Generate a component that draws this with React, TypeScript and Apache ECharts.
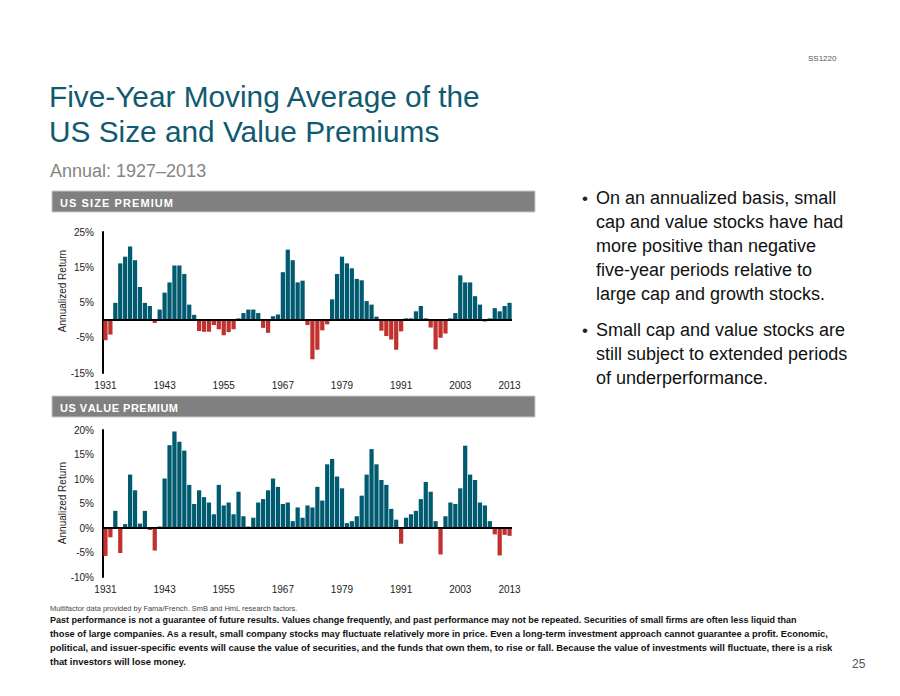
import React, { useEffect, useRef } from 'react';
import * as echarts from 'echarts';

const years: string[] = [];
for (let y = 1931; y <= 2013; y++) years.push(String(y));

// US size premium, five-year moving average (%), 1931–2013
const sizePremium = [
  -5.7, -4.1, 4.9, 16.1, 18.0, 20.9, 17.0, 9.4, 4.9, 4.0,
  -0.8, 3.0, 7.8, 10.7, 15.5, 15.5, 13.1, 4.4, 1.5, -3.1,
  -3.3, -3.3, -1.4, -2.6, -4.3, -3.4, -2.6, 0.5, 2.0, 3.0,
  3.0, 2.0, -2.2, -3.6, 1.1, 1.6, 13.6, 20.0, 17.0, 10.7,
  11.2, -1.4, -11.1, -8.4, -2.9, -1.2, 5.9, 13.1, 18.0, 16.1,
  14.7, 11.7, 11.3, 5.4, 4.4, 1.0, -3.0, -4.5, -5.5, -8.4,
  -3.2, 0.5, 0.5, 2.5, 4.0, 0.5, -2.1, -8.3, -5.0, -3.8,
  0.5, 2.0, 12.7, 10.7, 10.7, 6.8, 4.4, -0.4, 0.5, 3.4,
  2.5, 4.0, 4.9,
];

// US value premium, five-year moving average (%), 1931–2013
const valuePremium = [
  -5.7, -1.9, 3.5, -5.1, 0.8, 10.9, 7.7, 0.9, 3.5, -0.4,
  -4.6, 0.3, 10.1, 16.9, 19.7, 17.6, 15.8, 8.8, 4.9, 7.7,
  6.3, 5.2, 2.8, 8.8, 4.6, 5.2, 2.8, 7.4, 2.4, 0.3,
  2.1, 5.2, 5.9, 7.7, 10.1, 8.4, 4.9, 5.2, 1.4, 4.2,
  2.1, 4.6, 4.2, 8.4, 5.6, 13.0, 14.1, 10.5, 8.1, 1.0,
  1.4, 2.4, 6.6, 10.9, 16.1, 13.0, 9.8, 8.8, 3.9, 1.7,
  -3.2, 2.1, 2.8, 3.5, 5.9, 9.4, 7.4, 1.4, -5.4, 2.4,
  5.2, 4.9, 8.1, 16.8, 10.9, 9.8, 5.2, 4.6, 1.4, -1.3,
  -5.6, -1.4, -1.6,
];

const xTickLabels = ['1931', '1943', '1955', '1967', '1979', '1991', '2003', '2013'];
const sizeTicks = [-15, -5, 5, 15, 25];
const valueTicks = [-10, -5, 0, 5, 10, 15, 20];

const bullet1 = [
  'On an annualized basis, small',
  'cap and value stocks have had',
  'more positive than negative',
  'five-year periods relative to',
  'large cap and growth stocks.',
];
const bullet2 = [
  'Small cap and value stocks are',
  'still subject to extended periods',
  'of underperformance.',
];
const sourceNote = 'Multifactor data provided by Fama/French. SmB and HmL research factors.';
const disclaimer = [
  'Past performance is not a guarantee of future results. Values change frequently, and past performance may not be repeated. Securities of small firms are often less liquid than',
  'those of large companies. As a result, small company stocks may fluctuate relatively more in price. Even a long-term investment approach cannot guarantee a profit. Economic,',
  'political, and issuer-specific events will cause the value of securities, and the funds that own them, to rise or fall. Because the value of investments will fluctuate, there is a risk',
  'that investors will lose money.',
];

const TEAL = '#005b70';
const RED = '#c1312f';
const TITLE = '#0f5a70';
const FONT_NAME = 'Liberation Sans';
const FONT = '"Liberation Sans", Arial, Helvetica, sans-serif';
// rendered widths of the condensed disclaimer lines in the reference (px)
const DISC_WIDTHS = [747, 779, 784, 136];

function measure(text: string, size: number, weight = 'normal') {
  const c = document.createElement('canvas').getContext('2d');
  if (!c) return text.length * size * 0.5;
  c.font = `${weight} ${size}px "${FONT_NAME}", Arial, sans-serif`;
  return c.measureText(text).width;
}

function barData(vals: number[]) {
  return vals.map((v) => ({ value: v, itemStyle: { color: v < 0 ? RED : TEAL } }));
}

function txt(text: string, x: number, y: number, opts: any = {}) {
  const { rotation, scaleX, ...style } = opts;
  return {
    type: 'text',
    x,
    y,
    rotation: rotation || 0,
    scaleX: scaleX || 1,
    silent: true,
    style: {
      text,
      fill: '#222',
      fontFamily: FONT,
      fontSize: 12,
      textAlign: 'left',
      textVerticalAlign: 'middle',
      ...style,
    },
  };
}

function spacedText(text: string, x: number, y: number, size: number, targetWidth: number) {
  const chars = text.split('');
  const widths = chars.map((ch) => measure(ch, size, 'bold'));
  const total = widths.reduce((a, b) => a + b, 0);
  const gap = (targetWidth - total) / (chars.length - 1);
  const out: any[] = [];
  let cx = x;
  chars.forEach((ch, i) => {
    if (ch !== ' ') out.push(txt(ch, cx, y, { fontSize: size, fontWeight: 'bold', fill: '#fff' }));
    cx += widths[i] + gap;
  });
  return out;
}

export default function App() {
  const ref = useRef<HTMLDivElement>(null);

  useEffect(() => {
    if (!ref.current) return;
    const chart = echarts.init(ref.current, undefined, { renderer: 'svg' });

    const xAxisBase = (gridIndex: number) => ({
      type: 'category',
      gridIndex,
      data: years,
      axisLine: { show: false },
      axisTick: { show: false },
      axisLabel: {
        interval: (_i: number, v: string) => xTickLabels.includes(v),
        margin: 7,
        fontSize: 10,
        color: '#222',
        fontFamily: FONT,
      },
    });

    const yAxisBase = (gridIndex: number, min: number, max: number, ticks: number[]) => ({
      type: 'value',
      gridIndex,
      min,
      max,
      interval: 5,
      splitLine: { show: false },
      axisTick: { show: false },
      axisLine: { show: true, lineStyle: { color: '#000', width: 2 } },
      axisLabel: {
        margin: 9,
        fontSize: 10,
        color: '#222',
        fontFamily: FONT,
        formatter: (v: number) => (ticks.includes(v) ? v + '%' : ''),
      },
    });

    const zeroLine = {
      silent: true,
      symbol: 'none',
      label: { show: false },
      lineStyle: { color: '#000', width: 2, type: 'solid' },
      data: [{ yAxis: 0 }],
    };

    const noteScale = 248 / measure(sourceNote, 8);

    const graphics: any[] = [
      txt('SS1220', 808, 58, { fontSize: 8, fill: '#555' }),
      txt('Five-Year Moving Average of the', 49, 96, { fontSize: 29.8, fill: TITLE }),
      txt('US Size and Value Premiums', 49, 131, { fontSize: 29.8, fill: TITLE }),
      txt('Annual: 1927\u20132013', 50, 171, { fontSize: 18, fill: '#858585' }),
      {
        type: 'rect',
        silent: true,
        shape: { x: 52, y: 191, width: 483, height: 21 },
        style: { fill: '#808080', stroke: '#c8c8c8', lineWidth: 1 },
      },
      ...spacedText('US SIZE PREMIUM', 60, 202.5, 11, 113),
      {
        type: 'rect',
        silent: true,
        shape: { x: 52, y: 396, width: 483, height: 21 },
        style: { fill: '#808080', stroke: '#c8c8c8', lineWidth: 1 },
      },
      ...spacedText('US VALUE PREMIUM', 60, 407.5, 11, 118),
      txt('Annualized Return', 62, 291, {
        fontSize: 10,
        textAlign: 'center',
        rotation: Math.PI / 2,
      }),
      txt('Annualized Return', 62, 503, {
        fontSize: 10,
        textAlign: 'center',
        rotation: Math.PI / 2,
      }),
      txt(sourceNote, 50, 608, { fontSize: 8, fill: '#444', scaleX: noteScale }),
      txt('25', 852, 664, { fontSize: 12, fill: '#555' }),
    ];

    bullet1.forEach((line, i) => {
      if (i === 0) graphics.push(txt('\u2022', 582, 198, { fontSize: 17 }));
      graphics.push(txt(line, 596, 198 + i * 24, { fontSize: 18, fill: '#111' }));
    });
    bullet2.forEach((line, i) => {
      if (i === 0) graphics.push(txt('\u2022', 582, 330, { fontSize: 17 }));
      graphics.push(txt(line, 596, 330 + i * 24, { fontSize: 18, fill: '#111' }));
    });
    disclaimer.forEach((line, i) => {
      graphics.push(
        txt(line, 50, 620 + i * 14, {
          fontSize: 9,
          fontWeight: 'bold',
          fill: '#111',
          scaleX: DISC_WIDTHS[i] / measure(line, 9, 'bold'),
        })
      );
    });

    chart.setOption({
      animation: false,
      backgroundColor: '#fff',
      grid: [
        { left: 103, top: 232, width: 409, height: 141 },
        { left: 103, top: 430, width: 409, height: 147 },
      ],
      xAxis: [xAxisBase(0), xAxisBase(1)],
      yAxis: [yAxisBase(0, -15, 25, sizeTicks), yAxisBase(1, -10, 20, valueTicks)],
      series: [
        {
          type: 'bar',
          xAxisIndex: 0,
          yAxisIndex: 0,
          data: barData(sizePremium),
          barCategoryGap: '14%',
          markLine: zeroLine,
        },
        {
          type: 'bar',
          xAxisIndex: 1,
          yAxisIndex: 1,
          data: barData(valuePremium),
          barCategoryGap: '14%',
          markLine: zeroLine,
        },
      ],
      graphic: graphics,
    });

    return () => chart.dispose();
  }, []);

  return (
    <div
      ref={ref}
      style={{ position: 'absolute', left: 0, top: 0, width: 900, height: 696, background: '#fff' }}
    />
  );
}
